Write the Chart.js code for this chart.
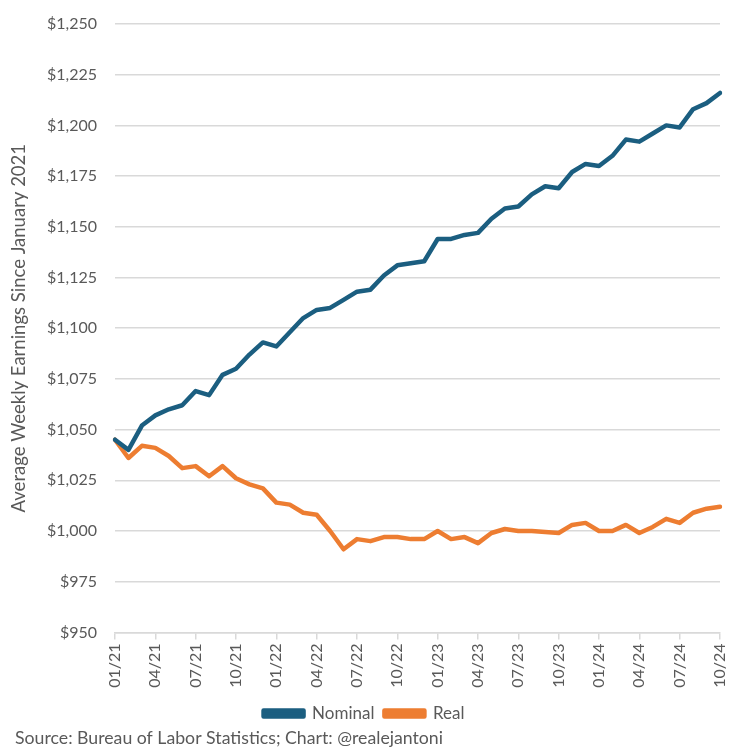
<!DOCTYPE html>
<html>
<head>
<meta charset="utf-8">
<script src="https://cdn.jsdelivr.net/npm/chart.js@4/dist/chart.umd.min.js"></script>
<style>
  html, body { margin: 0; padding: 0; background: #ffffff; }
  #wrap { width: 750px; height: 751px; position: relative; }
</style>
</head>
<body>
<div id="wrap"><canvas id="c"></canvas></div>
<script>
const months = [
  "01/21","02/21","03/21","04/21","05/21","06/21","07/21","08/21","09/21","10/21","11/21","12/21",
  "01/22","02/22","03/22","04/22","05/22","06/22","07/22","08/22","09/22","10/22","11/22","12/22",
  "01/23","02/23","03/23","04/23","05/23","06/23","07/23","08/23","09/23","10/23","11/23","12/23",
  "01/24","02/24","03/24","04/24","05/24","06/24","07/24","08/24","09/24","10/24"
];
const nominal = [
  1045, 1040, 1052, 1057, 1060, 1062, 1069, 1067, 1077, 1080, 1087, 1093,
  1091, 1098, 1105, 1109, 1110, 1114, 1118, 1119, 1126, 1131, 1132, 1133,
  1144, 1144, 1146, 1147, 1154, 1159, 1160, 1166, 1170, 1169, 1177, 1181,
  1180, 1185, 1193, 1192, 1196, 1200, 1199, 1208, 1211, 1216
];
const real = [
  1045, 1036, 1042, 1041, 1037, 1031, 1032, 1027, 1032, 1026, 1023, 1021,
  1014, 1013, 1009, 1008, 1000, 991, 996, 995, 997, 997, 996, 996,
  1000, 996, 997, 994, 999, 1001, 1000, 1000, 999.5, 999, 1003, 1004,
  1000, 1000, 1003, 999, 1002, 1006, 1004, 1009, 1011, 1012
];
const seriesNames = ["Nominal", "Real"];
const seriesColors = ["#1b5e80", "#ed7d31"];
const yTitle = "Average Weekly Earnings Since January 2021";
const sourceText = "Source: Bureau of Labor Statistics; Chart: @realejantoni";

const FONT = "Lato, 'Open Sans', sans-serif";
const GRAY = "#595959";
const GRID = "#d9d9d9";
const PAD_LEFT = 8;

const sourcePlugin = {
  id: "sourceNote",
  afterDraw(chart) {
    const ctx = chart.ctx;
    ctx.save();
    ctx.font = "17.7px " + FONT;
    ctx.fillStyle = GRAY;
    ctx.textAlign = "left";
    ctx.textBaseline = "middle";
    ctx.fillText(sourceText, 15, 738);
    ctx.restore();
  }
};

new Chart(document.getElementById("c"), {
  type: "line",
  data: {
    labels: months,
    datasets: [
      { label: seriesNames[0], data: nominal, borderColor: seriesColors[0], backgroundColor: seriesColors[0],
        borderWidth: 4.5, pointRadius: 0, tension: 0, borderCapStyle: "round", borderJoinStyle: "round" },
      { label: seriesNames[1], data: real, borderColor: seriesColors[1], backgroundColor: seriesColors[1],
        borderWidth: 4.5, pointRadius: 0, tension: 0, borderCapStyle: "round", borderJoinStyle: "round" }
    ]
  },
  plugins: [sourcePlugin],
  options: {
    responsive: true,
    maintainAspectRatio: false,
    animation: false,
    layout: { padding: { left: PAD_LEFT, right: 30, top: 24, bottom: 19 } },
    plugins: {
      legend: {
        position: "bottom",
        labels: { boxWidth: 40, boxHeight: 6, color: GRAY, font: { family: FONT, size: 17 }, padding: 10 }
      },
      tooltip: { enabled: false }
    },
    scales: {
      x: {
        offset: false,
        afterFit: (s) => { s.height = 62.6; s.paddingLeft = 0; s.paddingRight = 0; },
        grid: {
          drawOnChartArea: false, drawTicks: true, tickLength: 7, lineWidth: 1.5,
          color: (ctx) => (ctx.index % 3 === 0 ? GRID : "rgba(0,0,0,0)")
        },
        border: { display: true, color: GRID, width: 1.5 },
        ticks: {
          autoSkip: false, maxRotation: 90, minRotation: 90, color: GRAY,
          font: { family: FONT, size: 16 }, padding: 4,
          callback: function (v, i) { return i % 3 === 0 ? months[i] : ""; }
        }
      },
      y: {
        min: 950, max: 1250,
        afterFit: (s) => { s.width = 115 - PAD_LEFT; s.paddingTop = 0; s.paddingBottom = 0; },
        grid: { color: GRID, lineWidth: 1.5, drawTicks: false },
        border: { display: false },
        ticks: {
          stepSize: 25, color: GRAY, padding: 18, font: { family: FONT, size: 16 },
          callback: (v) => "$" + v.toLocaleString("en-US")
        },
        title: { display: true, text: yTitle, color: GRAY, font: { family: FONT, size: 18.5 }, padding: { top: 0, bottom: 4 } }
      }
    }
  }
});
</script>
</body>
</html>
